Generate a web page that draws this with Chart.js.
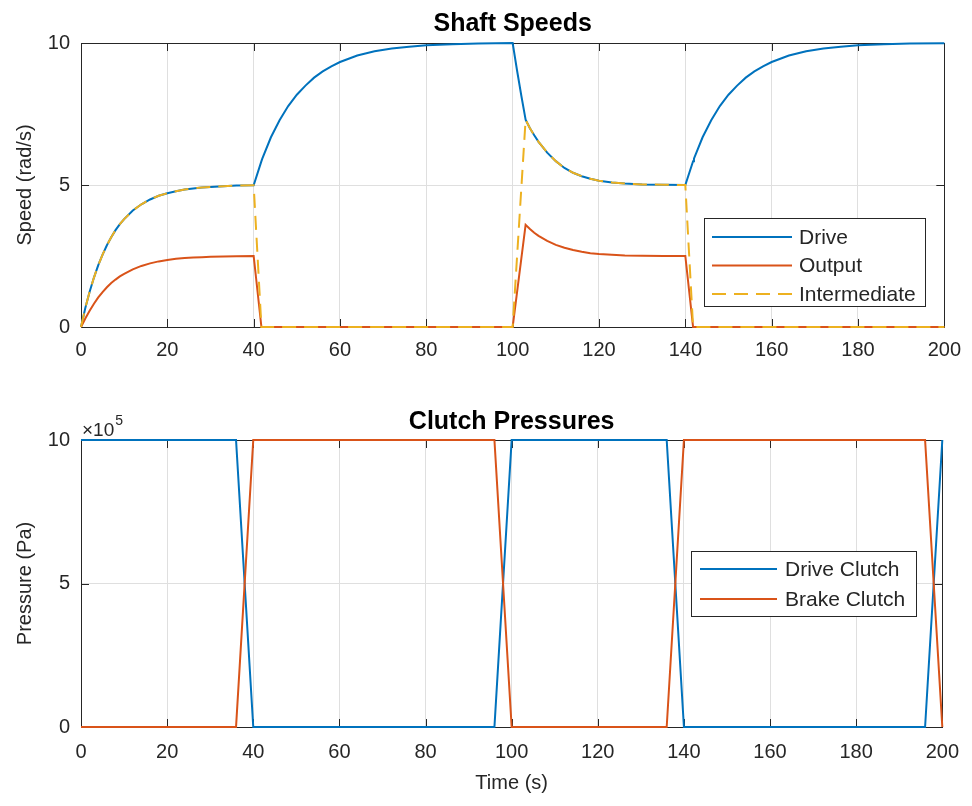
<!DOCTYPE html>
<html>
<head>
<meta charset="utf-8">
<title>Shaft Speeds / Clutch Pressures</title>
<script src="https://cdn.jsdelivr.net/npm/chart.js@4.4.1/dist/chart.umd.min.js"></script>
<style>
	body { margin: 0; background: #fff; }
	.box { position: absolute; left: 0; width: 972px; }
</style>
</head>
<body>
<div class="box" style="top: 0; height: 390px;"><canvas id="speedCanvas"></canvas></div>
<div class="box" style="top: 390px; height: 416px;"><canvas id="clutchCanvas"></canvas></div>
<script>

// shaft speeds (rad/s)
var time = [
	0, 1, 2, 3, 4, 5, 6, 7, 8, 9, 10, 12, 14, 16, 18, 20, 22, 24, 26, 28, 30, 33, 36, 40,
	41.8, 42, 44, 46, 48, 50, 52, 54, 56, 58, 60, 64, 68, 72, 76, 80, 86, 92, 100,
	101, 102, 103, 104, 105, 106, 108, 110, 112, 114, 116, 118, 120, 123, 126, 130, 135, 140,
	141.8, 142, 144, 146, 148, 150, 152, 154, 156, 158, 160, 164, 168, 172, 176, 180, 186, 192, 200
];
var driveSpeed = [
	0, 0.67, 1.24, 1.74, 2.18, 2.55, 2.88, 3.16, 3.41, 3.62, 3.80, 4.10, 4.32, 4.49, 4.62, 4.71, 4.78, 4.84, 4.88, 4.91, 4.93, 4.96, 4.98, 4.99,
	5.84, 5.93, 6.68, 7.28, 7.78, 8.18, 8.5, 8.78, 9.0, 9.18, 9.33, 9.56, 9.71, 9.81, 9.87, 9.92, 9.96, 9.98, 10.0,
	9.05, 8.15, 7.3, 7.0, 6.75, 6.52, 6.14, 5.84, 5.6, 5.43, 5.31, 5.22, 5.15, 5.09, 5.05, 5.02, 5.01, 5.0,
	5.84, 5.93, 6.68, 7.28, 7.78, 8.18, 8.5, 8.78, 9.0, 9.18, 9.33, 9.56, 9.71, 9.81, 9.87, 9.92, 9.96, 9.98, 9.99
];
var outputSpeed = [
	0, 0.30, 0.57, 0.82, 1.04, 1.23, 1.40, 1.55, 1.67, 1.78, 1.87, 2.03, 2.15, 2.24, 2.31, 2.36, 2.40, 2.43, 2.45, 2.46, 2.47, 2.48, 2.49, 2.50,
	0, 0, 0, 0, 0, 0, 0, 0, 0, 0, 0, 0, 0, 0, 0, 0, 0, 0, 0,
	1.2, 2.4, 3.6, 3.45, 3.32, 3.21, 3.03, 2.89, 2.79, 2.71, 2.65, 2.6, 2.57, 2.54, 2.52, 2.51, 2.5, 2.5,
	0, 0, 0, 0, 0, 0, 0, 0, 0, 0, 0, 0, 0, 0, 0, 0, 0, 0, 0
];
var intermediateSpeed = [
	0, 0.67, 1.24, 1.74, 2.18, 2.55, 2.88, 3.16, 3.41, 3.62, 3.80, 4.10, 4.32, 4.49, 4.62, 4.71, 4.78, 4.84, 4.88, 4.91, 4.93, 4.96, 4.98, 4.99,
	0, 0, 0, 0, 0, 0, 0, 0, 0, 0, 0, 0, 0, 0, 0, 0, 0, 0, 0,
	2.43, 4.87, 7.3, 7.0, 6.75, 6.52, 6.14, 5.84, 5.6, 5.43, 5.31, 5.22, 5.15, 5.09, 5.05, 5.02, 5.01, 5.0,
	0, 0, 0, 0, 0, 0, 0, 0, 0, 0, 0, 0, 0, 0, 0, 0, 0, 0, 0
];

// clutch pressures (Pa)
var clutchTime = [0, 36, 40, 96, 100, 136, 140, 196, 200];
var driveClutch = [1e6, 1e6, 0, 0, 1e6, 1e6, 0, 0, 1e6];
var brakeClutch = [0, 0, 1e6, 1e6, 0, 0, 1e6, 1e6, 0];

var speedTicks = [0, 5, 10];
var pressureTicks = [0, 5e5, 1e6];
var timeTicks = [0, 20, 40, 60, 80, 100, 120, 140, 160, 180, 200];

var BLUE = '#0072BD', RED = '#D95319', YELLOW = '#EDB120';
var AXIS = '#262626', GRID = '#dfdfdf';
var FONT = '"Liberation Sans", Arial, Helvetica, sans-serif';

Chart.defaults.font.family = FONT;
Chart.defaults.color = AXIS;

function pts(xs, ys) {
	return xs.map(function(x, i) { return {x: x, y: ys[i]}; });
}

// matlab style box with inward ticks, legend inside the axes, exponent label
var boxPlugin = {
	id: 'matBox',
	beforeDatasetsDraw: function(chart) {
		var ctx = chart.ctx, a = chart.chartArea;
		var xs = chart.scales.x, ys = chart.scales.y, len = 8;
		ctx.save();
		ctx.strokeStyle = AXIS;
		ctx.lineWidth = 1;
		ctx.beginPath();
		xs.ticks.forEach(function(t) {
			var px = Math.round(xs.getPixelForValue(t.value)) + 0.5;
			ctx.moveTo(px, a.bottom); ctx.lineTo(px, a.bottom - len);
			ctx.moveTo(px, a.top); ctx.lineTo(px, a.top + len);
		});
		ys.ticks.forEach(function(t) {
			var py = Math.round(ys.getPixelForValue(t.value)) + 0.5;
			ctx.moveTo(a.left, py); ctx.lineTo(a.left + len, py);
			ctx.moveTo(a.right, py); ctx.lineTo(a.right - len, py);
		});
		ctx.stroke();
		ctx.strokeRect(Math.round(a.left) + 0.5, Math.round(a.top) + 0.5,
			Math.round(a.right - a.left), Math.round(a.bottom - a.top));
		ctx.restore();
	},
	afterDraw: function(chart, args, opts) {
		var ctx = chart.ctx;
		ctx.save();
		if (opts.legend) {
			var L = opts.legend;
			ctx.fillStyle = '#fff';
			ctx.fillRect(L.x, L.y, L.w, L.h);
			ctx.strokeStyle = AXIS;
			ctx.lineWidth = 1;
			ctx.strokeRect(L.x + 0.5, L.y + 0.5, L.w, L.h);
			ctx.font = L.fontSize + 'px ' + FONT;
			ctx.textBaseline = 'middle';
			chart.data.datasets.forEach(function(ds, i) {
				var cy = L.firstRow + i * L.rowH;
				ctx.strokeStyle = ds.borderColor;
				ctx.lineWidth = ds.borderWidth;
				ctx.setLineDash(ds.borderDash || []);
				ctx.beginPath();
				ctx.moveTo(L.line0, cy); ctx.lineTo(L.line1, cy);
				ctx.stroke();
				ctx.setLineDash([]);
				ctx.fillStyle = AXIS;
				ctx.fillText(ds.label, L.textX, cy + 1);
			});
		}
		if (opts.exponent) {
			var E = opts.exponent;
			ctx.fillStyle = AXIS;
			ctx.textBaseline = 'alphabetic';
			ctx.font = E.fontSize + 'px ' + FONT;
			ctx.fillText('\u00d710', E.x, E.y);
			var w = ctx.measureText('\u00d710').width;
			ctx.font = Math.round(E.fontSize * 0.75) + 'px ' + FONT;
			ctx.fillText(E.power, E.x + w + 1, E.y - 11);
		}
		ctx.restore();
	}
};

function makeOptions(cfg) {
	return {
		responsive: true,
		maintainAspectRatio: false,
		animation: false,
		events: [],
		layout: {padding: {left: 0, right: 26, top: 0, bottom: 0}},
		plugins: {
			legend: {display: false},
			tooltip: {enabled: false},
			title: {
				display: true,
				fullSize: false,
				text: cfg.title,
				color: '#000',
				font: {size: 25, weight: 'bold'},
				padding: cfg.titlePad
			},
			matBox: {legend: cfg.legend, exponent: cfg.exponent}
		},
		scales: {
			x: {
				type: 'linear',
				min: 0, max: 200,
				afterBuildTicks: function(s) { s.ticks = timeTicks.map(function(v) { return {value: v}; }); },
				grid: {color: GRID, drawTicks: false},
				border: {display: false},
				ticks: {font: {size: 20}, padding: cfg.xPad, maxRotation: 0},
				title: cfg.xTitle ? {display: true, text: cfg.xTitle, font: {size: 20}, padding: {top: 0, bottom: 11}} : {display: false},
				afterFit: function(s) { s.height = cfg.xHeight; }
			},
			y: {
				min: cfg.yTicks[0], max: cfg.yTicks[cfg.yTicks.length - 1],
				afterBuildTicks: function(s) { s.ticks = cfg.yTicks.map(function(v) { return {value: v}; }); },
				grid: {color: GRID, drawTicks: false},
				border: {display: false},
				ticks: {font: {size: 20}, padding: 11, callback: cfg.yFormat},
				title: {display: true, text: cfg.yTitle, font: {size: 20}, padding: {top: 13, bottom: 0}},
				afterFit: function(s) { s.width = 81; }
			}
		}
	};
}

new Chart(document.getElementById('speedCanvas'), {
	type: 'line',
	data: {
		datasets: [{
			label: 'Drive', data: pts(time, driveSpeed), order: 3, clip: 4,
			borderColor: BLUE, borderWidth: 2, pointRadius: 0, tension: 0
		}, {
			label: 'Output', data: pts(time, outputSpeed), order: 2, clip: 4,
			borderColor: RED, borderWidth: 2, pointRadius: 0, tension: 0
		}, {
			label: 'Intermediate', data: pts(time, intermediateSpeed), order: 1, clip: 4,
			borderColor: YELLOW, borderWidth: 2, borderDash: [14, 8], pointRadius: 0, tension: 0
		}]
	},
	options: makeOptions({
		title: 'Shaft Speeds',
		titlePad: {top: 9, bottom: 4},
		yTicks: speedTicks,
		yTitle: 'Speed (rad/s)',
		yFormat: function(v) { return v; },
		xPad: 11,
		xHeight: 63,
		legend: {x: 704, y: 218, w: 221, h: 88, firstRow: 237, rowH: 28.5, line0: 712, line1: 792, textX: 799, fontSize: 21}
	}),
	plugins: [boxPlugin]
});

new Chart(document.getElementById('clutchCanvas'), {
	type: 'line',
	data: {
		datasets: [{
			label: 'Drive Clutch', data: pts(clutchTime, driveClutch), order: 2, clip: 4,
			borderColor: BLUE, borderWidth: 2, pointRadius: 0, tension: 0
		}, {
			label: 'Brake Clutch', data: pts(clutchTime, brakeClutch), order: 1, clip: 4,
			borderColor: RED, borderWidth: 2, pointRadius: 0, tension: 0
		}]
	},
	options: makeOptions({
		title: 'Clutch Pressures',
		titlePad: {top: 17, bottom: 3},
		yTicks: pressureTicks,
		yTitle: 'Pressure (Pa)',
		yFormat: function(v) { return v / 1e5; },
		xPad: 13,
		xHeight: 79,
		xTitle: 'Time (s)',
		legend: {x: 691, y: 161, w: 225, h: 65, firstRow: 179, rowH: 30, line0: 700, line1: 777, textX: 785, fontSize: 21},
		exponent: {x: 82, y: 46, fontSize: 19, power: '5'}
	}),
	plugins: [boxPlugin]
});

</script>
</body>
</html>
